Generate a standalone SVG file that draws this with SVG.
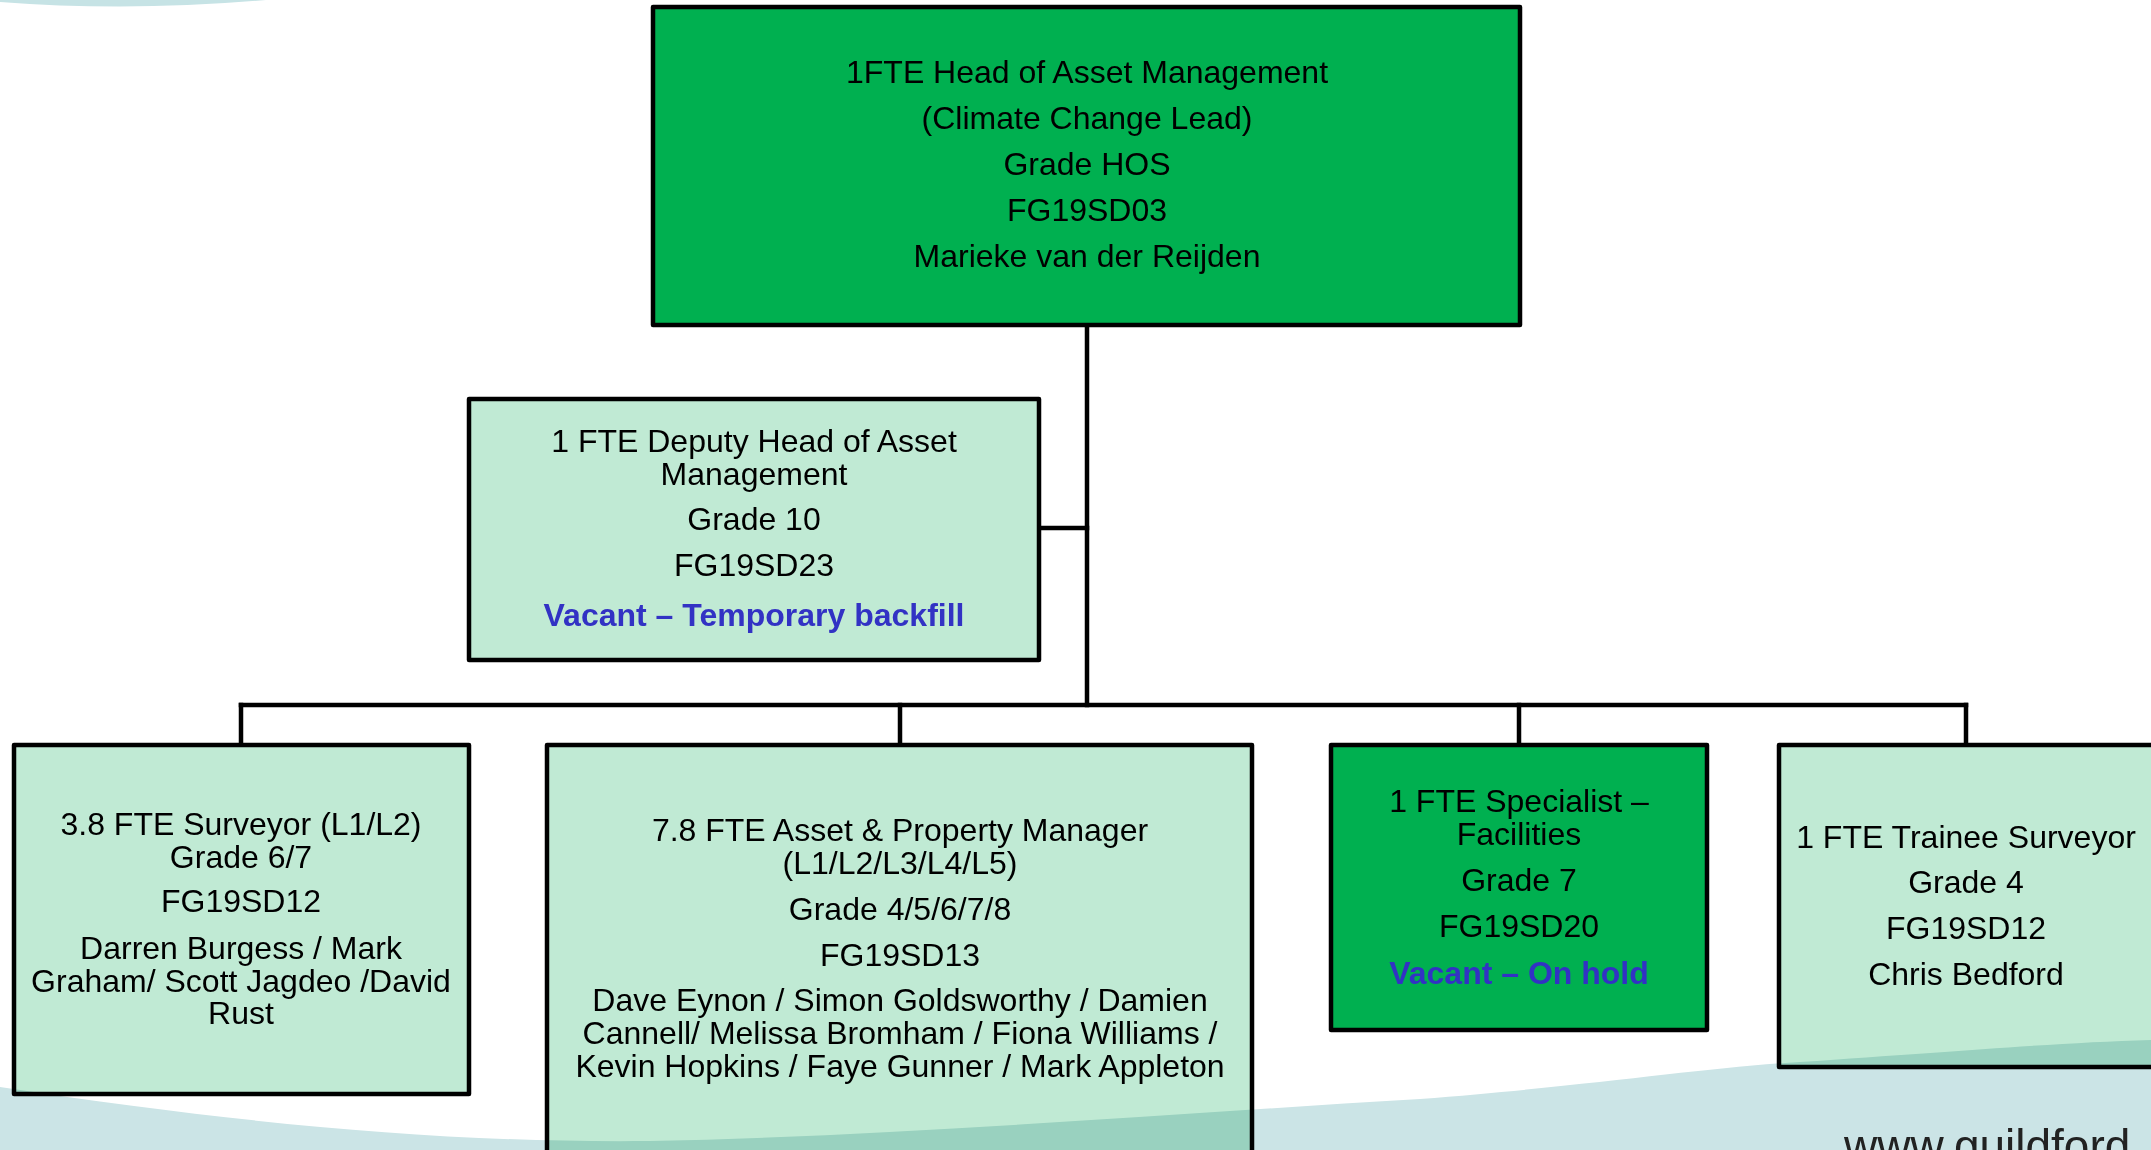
<svg xmlns="http://www.w3.org/2000/svg" width="2151" height="1150" viewBox="0 0 2151 1150">
  <style>
    .box { stroke: #000; stroke-width: 4.5; stroke-linejoin: round; }
    .dark { fill: #00B050; }
    .light { fill: #C0EAD4; }
    .link { stroke: #000; stroke-width: 4.5; fill: none; stroke-linecap: square; }
    text { font-family: "Liberation Sans", Arial, sans-serif; font-size: 32px; fill: #000; text-anchor: middle; }
    .vac { font-weight: bold; fill: #3232C4; }
    .wave { fill: #CBE4E6; mix-blend-mode: multiply; }
    .url { font-family: "Liberation Sans", Arial, sans-serif; font-size: 46px; fill: #222; text-anchor: start; }
  </style>

  <rect width="2151" height="1150" fill="#FFFFFF"/>

  <!-- top-left swoosh -->
  <path d="M0,0 L0,2 Q130,12 266,0 Z" fill="#C6E3E5"/>

  <!-- reporting lines -->
  <g id="connectors">
    <line class="link" x1="1087" y1="325" x2="1087" y2="705"/>
    <line class="link" x1="1039" y1="528" x2="1087" y2="528"/>
    <line class="link" x1="241" y1="705" x2="1966" y2="705"/>
    <line class="link" x1="241" y1="705" x2="241" y2="745"/>
    <line class="link" x1="900" y1="705" x2="900" y2="745"/>
    <line class="link" x1="1519" y1="705" x2="1519" y2="745"/>
    <line class="link" x1="1966" y1="705" x2="1966" y2="745"/>
  </g>

  <g id="head">
    <rect class="box dark" x="653" y="7" width="867" height="318"/>
    <text x="1087" y="83">1FTE Head of Asset Management</text>
    <text x="1087" y="129">(Climate Change Lead)</text>
    <text x="1087" y="175">Grade HOS</text>
    <text x="1087" y="221">FG19SD03</text>
    <text x="1087" y="267">Marieke van der Reijden</text>
  </g>

  <g id="deputy">
    <rect class="box light" x="469" y="399" width="570" height="261"/>
    <text x="754" y="452">1 FTE Deputy Head of Asset</text>
    <text x="754" y="485">Management</text>
    <text x="754" y="530">Grade 10</text>
    <text x="754" y="576">FG19SD23</text>
    <text class="vac" x="754" y="626">Vacant – Temporary backfill</text>
  </g>

  <g id="surveyor">
    <rect class="box light" x="14" y="745" width="455" height="349"/>
    <text x="241" y="835">3.8 FTE Surveyor (L1/L2)</text>
    <text x="241" y="868">Grade 6/7</text>
    <text x="241" y="912">FG19SD12</text>
    <text x="241" y="959">Darren Burgess / Mark</text>
    <text x="241" y="992">Graham/ Scott Jagdeo /David</text>
    <text x="241" y="1024">Rust</text>
  </g>

  <g id="asset-manager">
    <rect class="box light" x="547" y="745" width="705" height="420"/>
    <text x="900" y="841">7.8 FTE Asset &amp; Property Manager</text>
    <text x="900" y="874">(L1/L2/L3/L4/L5)</text>
    <text x="900" y="920">Grade 4/5/6/7/8</text>
    <text x="900" y="966">FG19SD13</text>
    <text x="900" y="1011">Dave Eynon / Simon Goldsworthy / Damien</text>
    <text x="900" y="1044">Cannell/ Melissa Bromham / Fiona Williams /</text>
    <text x="900" y="1077">Kevin Hopkins / Faye Gunner / Mark Appleton</text>
  </g>

  <g id="specialist">
    <rect class="box dark" x="1331" y="745" width="376" height="285"/>
    <text x="1519" y="812">1 FTE Specialist –</text>
    <text x="1519" y="845">Facilities</text>
    <text x="1519" y="891">Grade 7</text>
    <text x="1519" y="937">FG19SD20</text>
    <text class="vac" x="1519" y="984">Vacant – On hold</text>
  </g>

  <g id="trainee">
    <rect class="box light" x="1779" y="745" width="375" height="322"/>
    <text x="1966" y="848">1 FTE Trainee Surveyor</text>
    <text x="1966" y="893">Grade 4</text>
    <text x="1966" y="939">FG19SD12</text>
    <text x="1966" y="985">Chris Bedford</text>
  </g>

  <!-- footer swoosh, multiplied over the boxes it crosses -->
  <path class="wave" d="M0,1087 C250,1125 450,1143 650,1141 C900,1136 1150,1115 1420,1099 C1600,1085 1700,1068 1800,1062 C1950,1052 2050,1043 2151,1040 L2151,1150 L0,1150 Z"/>

  <text class="url" x="1844" y="1162">www.guildford</text>
</svg>
